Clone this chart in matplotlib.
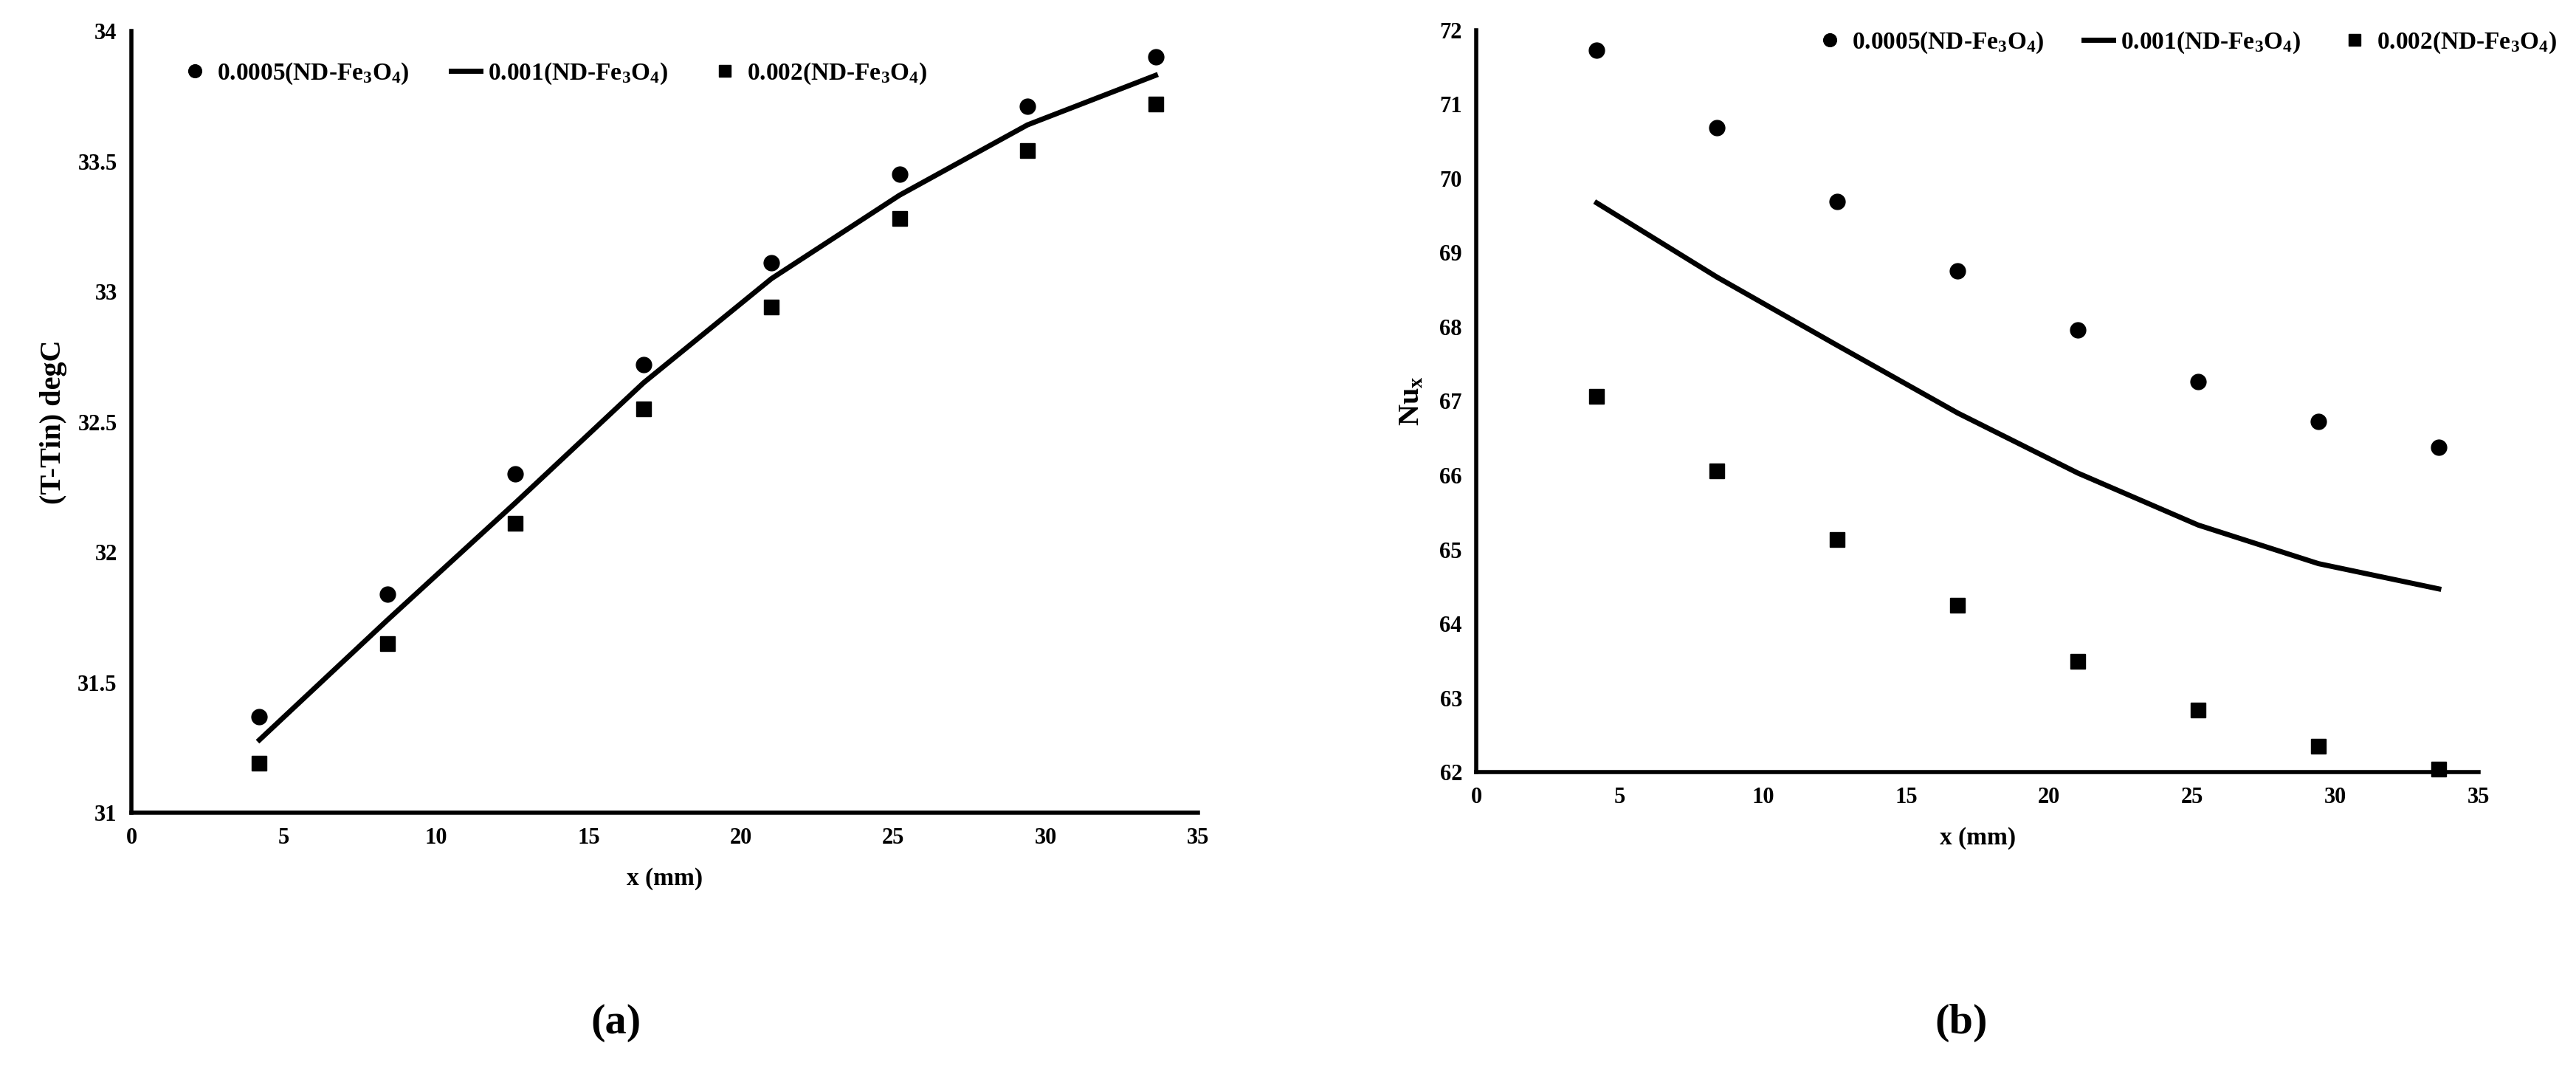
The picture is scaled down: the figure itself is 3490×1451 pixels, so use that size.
import matplotlib
matplotlib.use("Agg")
import matplotlib.pyplot as plt

# axial positions (mm)
x_mm = [4.2, 8.4, 12.6, 16.8, 21.0, 25.2, 29.4, 33.6]

# (a) temperature rise (T-Tin), degC
dt_0005 = [31.37, 31.84, 32.30, 32.72, 33.11, 33.45, 33.71, 33.90]
dt_001 = [31.28, 31.74, 32.19, 32.65, 33.05, 33.37, 33.64, 33.83]
dt_002 = [31.19, 31.65, 32.11, 32.55, 32.94, 33.28, 33.54, 33.72]

# (b) local Nusselt number
nu_0005 = [71.73, 70.68, 69.69, 68.75, 67.96, 67.26, 66.73, 66.38]
nu_001 = [69.67, 68.67, 67.75, 66.84, 66.03, 65.33, 64.81, 64.47]
nu_002 = [67.06, 66.06, 65.13, 64.25, 63.49, 62.84, 62.35, 62.04]

labels = ["0.0005(ND-Fe$_3$O$_4$)", "0.001(ND-Fe$_3$O$_4$)", "0.002(ND-Fe$_3$O$_4$)"]
x_ticks = [0, 5, 10, 15, 20, 25, 30, 35]

plt.rcParams['font.family'] = ['Liberation Serif', 'DejaVu Serif']
plt.rcParams['font.weight'] = 'bold'
plt.rcParams['mathtext.default'] = 'regular'


def draw(ax, y_circ, y_line, y_sq):
    ax.plot(x_mm, y_circ, 'o', color='black', markersize=15, clip_on=False, label=labels[0])
    ax.plot(x_mm, y_line, '-', color='black', linewidth=5, label=labels[1])
    ax.plot(x_mm, y_sq, 's', color='black', markersize=14, clip_on=False, label=labels[2])
    ax.set_xlim(0, 35)
    ax.set_xticks(x_ticks)
    for side in ['top', 'right']:
        ax.spines[side].set_visible(False)
    for side in ['left', 'bottom']:
        ax.spines[side].set_linewidth(4)
    ax.tick_params(length=0, labelsize=22, pad=14)
    for t in ax.get_xticklabels() + ax.get_yticklabels():
        t.set_fontweight('bold')


fig = plt.figure(figsize=(34.91, 14.51), dpi=100)

ax1 = fig.add_axes([0.051, 0.241, 0.414, 0.730])
draw(ax1, dt_0005, dt_001, dt_002)
ax1.set_ylim(31, 34)
ax1.set_yticks([31, 31.5, 32, 32.5, 33, 33.5, 34])
ax1.set_yticklabels(['31', '31.5', '32', '32.5', '33', '33.5', '34'])
ax1.set_xlabel("x (mm)", fontsize=24, fontweight='bold', labelpad=18)
ax1.set_ylabel("(T-Tin) degC", fontsize=29, fontweight='bold', labelpad=10)
ax1.legend(loc='upper left', bbox_to_anchor=(0.025, 0.99), ncol=3, frameon=False,
           fontsize=24, handlelength=1.2, handletextpad=0.3, columnspacing=1.7,
           markerscale=0.85)

ax2 = fig.add_axes([0.573, 0.279, 0.389, 0.693])
draw(ax2, nu_0005, nu_001, nu_002)
ax2.set_ylim(62, 72)
ax2.set_yticks(range(62, 73))
ax2.set_xlabel("x (mm)", fontsize=24, fontweight='bold', labelpad=18)
ax2.set_ylabel("Nu$_x$", fontsize=29, fontweight='bold', labelpad=14)
ax2.legend(loc='upper right', bbox_to_anchor=(1.1, 1.03), ncol=3, frameon=False,
           fontsize=24, handlelength=1.2, handletextpad=0.3, columnspacing=1.6,
           markerscale=0.85)

fig.text(0.239, 0.045, "(a)", fontsize=42, fontweight='bold', ha='center', va='center')
fig.text(0.761, 0.045, "(b)", fontsize=42, fontweight='bold', ha='center', va='center')

fig.savefig("out.png", dpi=100, facecolor='white')
